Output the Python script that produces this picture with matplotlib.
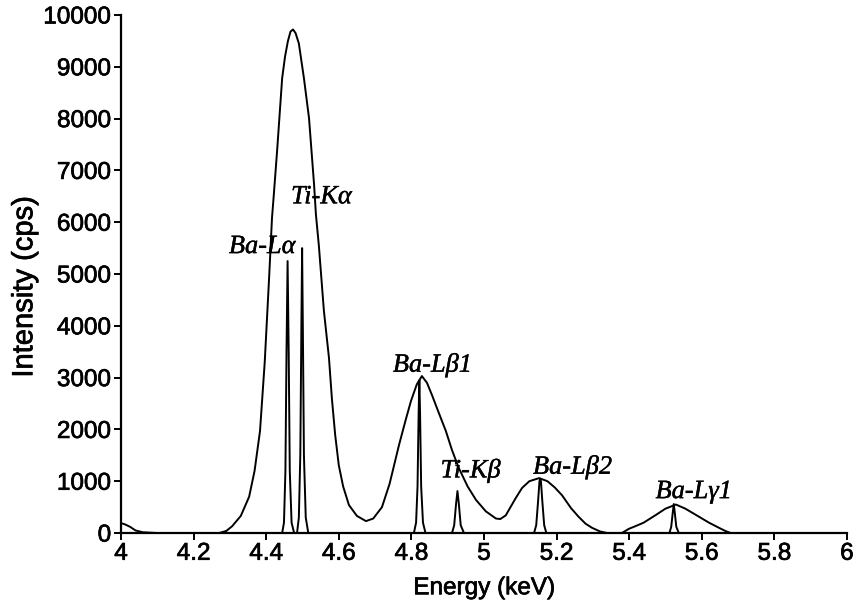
import matplotlib.pyplot as plt
import matplotlib.patheffects as pe

# broad (EDS-like) spectrum
eds_e = [4.000, 4.010, 4.025, 4.040, 4.060, 4.100, 4.200, 4.270, 4.290, 4.306,
         4.330, 4.353, 4.368, 4.383, 4.396, 4.408, 4.416, 4.421, 4.430, 4.444,
         4.452, 4.460, 4.467, 4.474, 4.481, 4.490, 4.504, 4.518, 4.532, 4.537,
         4.545, 4.559, 4.573, 4.581, 4.590, 4.600, 4.612, 4.628, 4.650, 4.675,
         4.695, 4.719, 4.740, 4.766, 4.785, 4.799, 4.815, 4.829, 4.843, 4.857,
         4.875, 4.895, 4.912, 4.931, 4.955, 4.978, 5.005, 5.033, 5.045, 5.060,
         5.088, 5.105, 5.125, 5.152, 5.175, 5.195, 5.215, 5.240, 5.260, 5.280,
         5.298, 5.320, 5.340, 5.380, 5.399, 5.420, 5.440, 5.474, 5.500, 5.529,
         5.555, 5.584, 5.620, 5.645, 5.665, 5.680, 6.000]
eds_i = [190, 170, 120, 50, 15, 0, 0, 0, 40, 130,
         330, 700, 1200, 1970, 3300, 4920, 6080, 6530, 7370, 8780,
         9200, 9500, 9680, 9720, 9650, 9450, 8780, 8010, 6720, 6150,
         5560, 4290, 3380, 2600, 1900, 1310, 900, 540, 330, 230,
         280, 500, 950, 1700, 2200, 2550, 2870, 3030, 2900, 2660,
         2330, 1970, 1600, 1250, 900, 640, 420, 280, 270, 340,
         680, 870, 1000, 1060, 1000, 880, 730, 480, 320, 180,
         100, 30, 0, 0, 80, 140, 200, 350, 470, 550,
         470, 350, 200, 110, 40, 0, 0]

# narrow (WDS-like) lines
wds_e = [4.000, 4.444, 4.449, 4.453, 4.456, 4.459, 4.462, 4.465, 4.470, 4.477,
         4.485, 4.490, 4.494, 4.497, 4.499, 4.501, 4.504, 4.509, 4.516,
         4.807, 4.813, 4.817, 4.820, 4.822, 4.824, 4.827, 4.832, 4.839,
         4.912, 4.918, 4.923, 4.927, 4.931, 4.936, 4.945,
         5.138, 5.144, 5.149, 5.153, 5.155, 5.157, 5.161, 5.166, 5.172,
         5.511, 5.516, 5.520, 5.523, 5.526, 5.530, 5.537, 6.000]
wds_i = [0, 0, 200, 1200, 3500, 5250, 3500, 1200, 200, 0,
         0, 300, 1500, 4000, 5500, 4000, 1500, 300, 0,
         0, 200, 900, 2300, 2950, 2300, 900, 200, 0,
         0, 150, 550, 810, 550, 150, 0,
         0, 150, 600, 1000, 1050, 1000, 600, 150, 0,
         0, 120, 380, 560, 380, 120, 0, 0]

labels = ["Ti-K\u03b1", "Ba-L\u03b1", "Ba-L\u03b21", "Ti-K\u03b2", "Ba-L\u03b22", "Ba-L\u03b31"]
label_e = [4.552, 4.389, 4.858, 4.963, 5.244, 5.578]
label_i = [6480, 5520, 3240, 1200, 1270, 790]

xticks = [4, 4.2, 4.4, 4.6, 4.8, 5, 5.2, 5.4, 5.6, 5.8, 6]
xtick_labels = ["4", "4.2", "4.4", "4.6", "4.8", "5", "5.2", "5.4", "5.6", "5.8", "6"]
yticks = list(range(0, 10001, 1000))

plt.rcParams['font.family'] = ['Liberation Sans', 'DejaVu Sans']

fig = plt.figure(figsize=(8.57, 6.04), dpi=100)
ax = fig.add_axes([0.1412, 0.1175, 0.847, 0.8577])

ax.plot(eds_e, eds_i, color='black', lw=1.4)
ax.plot(wds_e, wds_i, color='black', lw=1.4)

heavy = [pe.withStroke(linewidth=0.5, foreground='black')]
light = [pe.withStroke(linewidth=0.3, foreground='black')]
for t, x, y in zip(labels, label_e, label_i):
    ax.text(x, y, t, ha='center', va='center', fontsize=19, style='italic',
            family=['Liberation Serif', 'DejaVu Serif'], path_effects=light)

ax.set_xlim(4, 6)
ax.set_ylim(0, 10000)
ax.set_xticks(xticks)
ax.set_xticklabels(xtick_labels)
ax.set_yticks(yticks)
ax.spines['top'].set_visible(False)
ax.spines['right'].set_visible(False)
ax.spines['left'].set_linewidth(1.6)
ax.spines['bottom'].set_linewidth(1.6)
ax.tick_params(axis='both', labelsize=17.5, width=1.4, length=5, direction='out', pad=2)
for lab in ax.get_xticklabels() + ax.get_yticklabels():
    lab.set_path_effects(heavy)
ax.set_xlabel("Energy (keV)", fontsize=17.5, labelpad=9, path_effects=heavy)
ax.set_ylabel("Intensity (cps)", fontsize=21, path_effects=heavy)
ax.yaxis.set_label_coords(-0.114, 0.475)

fig.savefig("out.png", dpi=100)
